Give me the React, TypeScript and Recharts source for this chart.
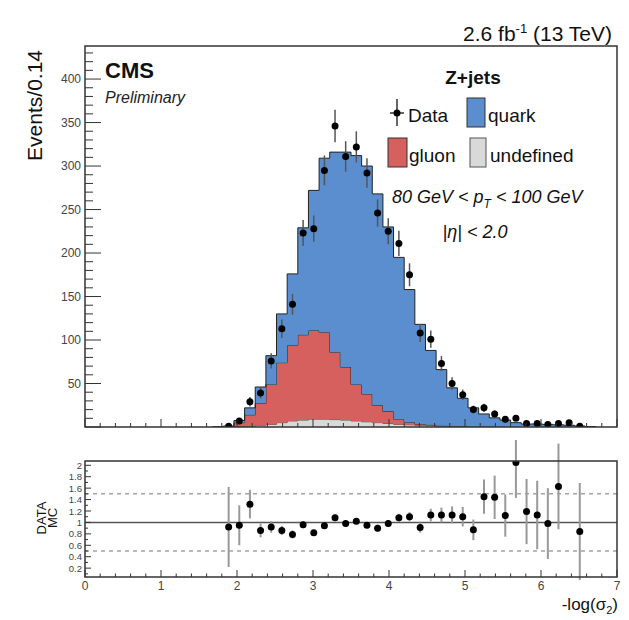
import React from 'react';
import {
  ComposedChart,
  Area,
  Scatter,
  ErrorBar,
  XAxis,
  YAxis,
  ReferenceLine,
} from 'recharts';

// Binning of -log(sigma_2): 50 bins of width 0.14 on [0, 7]
const BIN_WIDTH = 0.14;
const FIRST_BIN = 13; // first populated bin (lower edge 1.82)

// Simulated stack, events per bin, bins 13..47
const undefinedEvents = [
  0.2, 0.5, 1, 2, 3, 5, 7, 8, 9, 9, 8.5, 8, 7, 6, 5, 4, 3, 2.5, 2, 1.5, 1, 0.7,
  0.5, 0.3, 0.2, 0.1, 0.1, 0, 0, 0, 0, 0, 0, 0, 0,
];
const gluonEvents = [
  0.3, 4.5, 13, 25, 46, 69, 87, 98, 102, 100, 77.5, 61, 42, 32, 20, 14, 6, 3,
  1.5, 1, 0.5, 0.3, 0.1, 0.1, 0.1, 0.1, 0, 0, 0, 0, 0, 0, 0, 0, 0,
];
const quarkEvents = [
  0.6, 2.5, 8, 19, 33, 56, 82, 123, 161, 200, 230, 247, 263, 262, 243, 212, 186,
  152.5, 114.5, 85.5, 64.5, 44, 32.4, 21.6, 14.7, 10.3, 7.9, 5, 3.4, 3.5, 3,
  2.5, 2, 1.2, 0.5,
];

// Observed data, bins 13..46
const dataEvents = [
  1, 7, 29, 39, 76, 113, 141, 223, 228, 295, 346, 311, 322, 292, 246, 225, 211,
  175, 108, 101, 73, 50, 37, 20, 22, 15, 9, 10, 4, 4, 3, 4, 5, 1,
];
const dataErrors = [
  1, 2.6, 5.4, 6.2, 8.7, 10.6, 11.9, 14.9, 15.1, 17.2, 18.6, 17.6, 17.9, 17.1,
  15.7, 15, 14.5, 13.2, 10.4, 10, 8.5, 7.1, 6.1, 4.5, 4.7, 3.9, 3, 3.2, 2, 2,
  1.7, 2, 2.2, 1,
];

// DATA/MC ratio, bins 13..46 (null = outside the displayed range)
const ratioValues = [
  0.92, 0.95, 1.32, 0.86, 0.92, 0.86, 0.79, 0.96, 0.82, 0.94, 1.08, 0.98, 1.02,
  0.95, 0.9, 0.98, 1.08, 1.1, 0.91, 1.13, 1.13, 1.13, 1.1, 0.87, 1.45, 1.44,
  1.12, 2.05, 1.19, 1.13, 0.98, 1.63, null, 0.84,
];
const ratioErrors = [
  0.7, 0.35, 0.25, 0.12, 0.1, 0.08, 0.07, 0.06, 0.05, 0.05, 0.06, 0.05, 0.05,
  0.05, 0.06, 0.06, 0.07, 0.08, 0.09, 0.11, 0.13, 0.15, 0.17, 0.18, 0.3, 0.38,
  0.37, 0.62, 0.57, 0.6, 0.62, 0.75, null, 0.85,
];

// Axis labels
const X_LABELS = [0, 1, 2, 3, 4, 5, 6, 7];
const TOP_Y_LABELS = [50, 100, 150, 200, 250, 300, 350, 400];
const RATIO_Y_LABELS = ['0.2', '0.4', '0.6', '0.8', '1', '1.2', '1.4', '1.6', '1.8', '2'];

const FONT = '"Liberation Sans", Arial, Helvetica, sans-serif';
const AXIS = '#333';
const LABEL = '#444';
const QUARK = '#5b8ecf';
const GLUON = '#d6605d';
const UNDEF = '#d9d9d9';

const edge = (k: number) => Math.round(k * BIN_WIDTH * 100) / 100;
const center = (k: number) => Math.round((k + 0.5) * BIN_WIDTH * 1000) / 1000;

// Stacked histogram rows at bin lower edges (step-after), closed with zero rows
const stackRows = [
  { x: edge(FIRST_BIN - 1), undef: 0, gluon: 0, quark: 0 },
  ...quarkEvents.map((q, i) => ({
    x: edge(FIRST_BIN + i),
    undef: undefinedEvents[i],
    gluon: gluonEvents[i],
    quark: q,
  })),
  { x: edge(FIRST_BIN + quarkEvents.length), undef: 0, gluon: 0, quark: 0 },
];

const dataPoints = dataEvents.map((v, i) => ({
  x: center(FIRST_BIN + i),
  y: v,
  err: dataErrors[i],
}));

const ratioPoints = ratioValues
  .map((v, i) => ({ x: center(FIRST_BIN + i), y: v, err: ratioErrors[i] }))
  .filter((p) => p.y !== null);

// Tick positions (major + minor)
const xTicks = Array.from({ length: 36 }, (_, i) => Math.round(i * 2) / 10);
const topYTicks = Array.from({ length: 44 }, (_, i) => i * 10);
const ratioYTicks = Array.from({ length: 20 }, (_, i) => Math.round((i + 1)) / 10);

const isInt = (v: number) => Math.abs(v - Math.round(v)) < 1e-6;

const TopXTick = (props: any) => {
  const { x, y, payload } = props;
  const major = isInt(payload.value);
  return (
    <line x1={x} x2={x} y1={y} y2={y - (major ? 8 : 4)} stroke={AXIS} strokeWidth={1} />
  );
};

const RatioXTick = (props: any) => {
  const { x, y, payload } = props;
  const v = payload.value;
  const major = isInt(v);
  const label = major ? X_LABELS.find((l) => l === Math.round(v)) : undefined;
  return (
    <g>
      <line x1={x} x2={x} y1={y} y2={y - (major ? 7 : 3.5)} stroke={AXIS} strokeWidth={1} />
      {label !== undefined && (
        <text x={x} y={y + 13} textAnchor="middle" fontSize={12} fill={LABEL} fontFamily={FONT}>
          {label}
        </text>
      )}
    </g>
  );
};

const TopYTick = (props: any) => {
  const { x, y, payload } = props;
  const v = payload.value;
  const major = v % 50 === 0;
  const label = TOP_Y_LABELS.includes(v) ? v : undefined;
  return (
    <g>
      <line x1={x} x2={x + (major ? 16 : 8)} y1={y} y2={y} stroke={AXIS} strokeWidth={1} />
      {label !== undefined && (
        <text x={x - 4} y={y} dy={4} textAnchor="end" fontSize={12} fill={LABEL} fontFamily={FONT}>
          {label}
        </text>
      )}
    </g>
  );
};

const RatioYTick = (props: any) => {
  const { x, y, payload } = props;
  const v = payload.value;
  const idx = Math.round(v * 10);
  const major = idx % 2 === 0;
  const label = major ? RATIO_Y_LABELS[idx / 2 - 1] : undefined;
  return (
    <g>
      <line x1={x} x2={x + (major ? 6 : 3)} y1={y} y2={y} stroke={AXIS} strokeWidth={1} />
      {label !== undefined && (
        <text x={x - 3} y={y} dy={3.5} textAnchor="end" fontSize={9.5} fill={LABEL} fontFamily={FONT}>
          {label}
        </text>
      )}
    </g>
  );
};

const Dot = (p: any) => <circle cx={p.cx} cy={p.cy} r={3.5} fill="#000" />;

export default function App() {
  return (
    <div style={{ position: 'absolute', left: 0, top: 0, width: 629, height: 620, background: '#fff', fontFamily: FONT }}>
      {/* Main panel: stacked simulation and data */}
      <div style={{ position: 'absolute', left: 0, top: 0 }}>
        <ComposedChart
          width={629}
          height={440}
          data={stackRows}
          margin={{ top: 46, right: 12, bottom: 0, left: 0 }}
        >
          <XAxis
            dataKey="x"
            type="number"
            domain={[0, 7]}
            ticks={xTicks}
            interval={0}
            allowDataOverflow
            height={13}
            axisLine={false}
            tickLine={false}
            tickSize={0}
            tickMargin={0}
            tick={TopXTick}
          />
          <YAxis
            type="number"
            domain={[0, 438]}
            ticks={topYTicks}
            interval={0}
            allowDataOverflow
            width={85}
            axisLine={false}
            tickLine={false}
            tickSize={0}
            tickMargin={0}
            tick={TopYTick}
          />
          <Area type="stepAfter" dataKey="undef" stackId="mc" fill={UNDEF} fillOpacity={1} stroke="#555" strokeWidth={1} dot={false} activeDot={false} isAnimationActive={false} />
          <Area type="stepAfter" dataKey="gluon" stackId="mc" fill={GLUON} fillOpacity={1} stroke="#222" strokeWidth={1} dot={false} activeDot={false} isAnimationActive={false} />
          <Area type="stepAfter" dataKey="quark" stackId="mc" fill={QUARK} fillOpacity={1} stroke="#222" strokeWidth={1} dot={false} activeDot={false} isAnimationActive={false} />
          <Scatter data={dataPoints} dataKey="y" shape={Dot} isAnimationActive={false}>
            <ErrorBar dataKey="err" direction="y" width={0} stroke="#555" strokeWidth={1.5} />
          </Scatter>
        </ComposedChart>
      </div>

      {/* Ratio panel */}
      <div style={{ position: 'absolute', left: 0, top: 440 }}>
        <ComposedChart width={629} height={180} margin={{ top: 21, right: 12, bottom: 0, left: 0 }}>
          <XAxis
            dataKey="x"
            type="number"
            domain={[0, 7]}
            ticks={xTicks}
            interval={0}
            allowDataOverflow
            height={43}
            axisLine={false}
            tickLine={false}
            tickSize={0}
            tickMargin={0}
            tick={RatioXTick}
          />
          <YAxis
            type="number"
            domain={[0.045, 2.075]}
            ticks={ratioYTicks}
            interval={0}
            allowDataOverflow
            width={85}
            axisLine={false}
            tickLine={false}
            tickSize={0}
            tickMargin={0}
            tick={RatioYTick}
          />
          <ReferenceLine y={1.5} stroke="#777" strokeWidth={1} strokeDasharray="4 4" />
          <ReferenceLine y={0.5} stroke="#777" strokeWidth={1} strokeDasharray="4 4" />
          <ReferenceLine y={1} stroke="#555" strokeWidth={1.5} />
          <Scatter data={ratioPoints} dataKey="y" shape={Dot} isAnimationActive={false}>
            <ErrorBar dataKey="err" direction="y" width={0} stroke="#999" strokeWidth={2} />
          </Scatter>
        </ComposedChart>
      </div>

      {/* Frames, titles and legend */}
      <svg
        width={629}
        height={620}
        style={{ position: 'absolute', left: 0, top: 0, pointerEvents: 'none' }}
        fontFamily={FONT}
      >
        <rect x={85} y={46} width={532} height={381} fill="none" stroke={AXIS} strokeWidth={1.5} />
        <rect x={85} y={461} width={532} height={116} fill="none" stroke={AXIS} strokeWidth={1.5} />

        <text x={612} y={41} textAnchor="end" fontSize={21} fill="#111">
          2.6 fb<tspan dy={-8} fontSize={13}>-1</tspan>
          <tspan dy={8}> (13 TeV)</tspan>
        </text>

        <text x={105} y={78} fontSize={22} fontWeight="bold" fill="#111">CMS</text>
        <text x={105} y={103} fontSize={16} fontStyle="italic" fill="#222">Preliminary</text>

        <text transform="translate(42,50) rotate(-90)" textAnchor="end" fontSize={21} fill="#111">
          Events/0.14
        </text>

        <text x={473} y={84} textAnchor="middle" fontSize={19} fontWeight="bold" fill="#111">Z+jets</text>

        <line x1={397} x2={397} y1={99} y2={126} stroke="#333" strokeWidth={1.5} />
        <line x1={390} x2={404} y1={113} y2={113} stroke="#333" strokeWidth={1.5} />
        <circle cx={397} cy={113} r={3.5} fill="#000" />
        <text x={408} y={122} fontSize={19} fill="#111">Data</text>

        <rect x={467} y={98} width={18} height={29} fill={QUARK} stroke="#333" strokeWidth={1} />
        <text x={488} y={122} fontSize={19} fill="#111">quark</text>

        <rect x={388} y={138} width={19} height={29} fill={GLUON} stroke="#333" strokeWidth={1} />
        <text x={409} y={162} fontSize={19} fill="#111">gluon</text>

        <rect x={470} y={138} width={16} height={29} fill={UNDEF} stroke="#555" strokeWidth={1} />
        <text x={490} y={162} fontSize={19} fill="#111">undefined</text>

        <text x={392} y={203} fontSize={18} fontStyle="italic" fill="#111">
          80 GeV &lt; p<tspan dy={5} fontSize={12}>T</tspan>
          <tspan dy={-5}> &lt; 100 GeV</tspan>
        </text>
        <text x={475} y={238} textAnchor="middle" fontSize={18} fontStyle="italic" fill="#111">
          |η| &lt; 2.0
        </text>

        <text transform="translate(46,518) rotate(-90)" textAnchor="middle" fontSize={13} fill="#111">DATA</text>
        <text transform="translate(57,518) rotate(-90)" textAnchor="middle" fontSize={13} fill="#111">MC</text>

        <text x={618} y={610} textAnchor="end" fontSize={17} fill="#111">
          -log(σ<tspan dy={4} fontSize={11}>2</tspan>
          <tspan dy={-4}>)</tspan>
        </text>
      </svg>
    </div>
  );
}
